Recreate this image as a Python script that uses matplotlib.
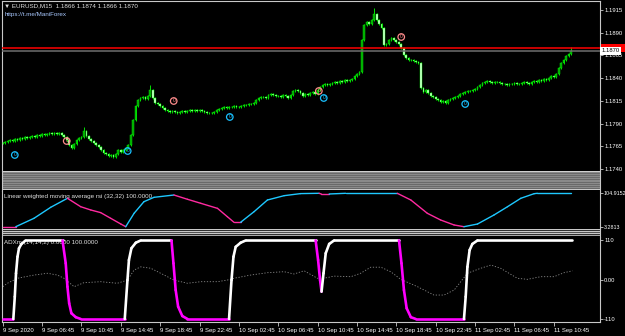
import numpy as np
import matplotlib
matplotlib.use("Agg")
import matplotlib.pyplot as plt
from matplotlib.patches import Rectangle

plt.rcParams['font.family'] = ['Liberation Sans', 'DejaVu Sans']

# ---- price data (EURUSD M15 closes) ----
closes = [
    1.17687, 1.17698, 1.17709, 1.17720, 1.17709, 1.17731, 1.17720, 1.17742, 1.17731, 1.17753,
    1.17742, 1.17753, 1.17764, 1.17753, 1.17775, 1.17764, 1.17786, 1.17775, 1.17786, 1.17797,
    1.17786, 1.17797, 1.17786, 1.17797, 1.17775, 1.17753, 1.17720, 1.17665, 1.17632, 1.17676,
    1.17720, 1.17742, 1.17753, 1.17819, 1.17764, 1.17731, 1.17709, 1.17687, 1.17665, 1.17643,
    1.17610, 1.17577, 1.17566, 1.17544, 1.17555, 1.17533, 1.17566, 1.17610, 1.17588, 1.17610,
    1.17632, 1.17665, 1.17775, 1.17940, 1.18094, 1.18160, 1.18182, 1.18193, 1.18171, 1.18204,
    1.18270, 1.18182, 1.18127, 1.18116, 1.18094, 1.18072, 1.18050, 1.18039, 1.18028, 1.18039,
    1.18028, 1.18017, 1.18028, 1.18039, 1.18028, 1.18039, 1.18050, 1.18039, 1.18050, 1.18039,
    1.18050, 1.18039, 1.18028, 1.18017, 1.18017, 1.18017, 1.18028, 1.18050, 1.18061, 1.18072,
    1.18083, 1.18072, 1.18083, 1.18083, 1.18094, 1.18083, 1.18083, 1.18094, 1.18105, 1.18105,
    1.18116, 1.18116, 1.18127, 1.18160, 1.18182, 1.18193, 1.18193, 1.18182, 1.18215, 1.18226,
    1.18215, 1.18204, 1.18204, 1.18193, 1.18215, 1.18204, 1.18182, 1.18215, 1.18259, 1.18270,
    1.18259, 1.18237, 1.18204, 1.18226, 1.18215, 1.18237, 1.18248, 1.18226, 1.18270, 1.18303,
    1.18325, 1.18336, 1.18325, 1.18336, 1.18347, 1.18358, 1.18347, 1.18369, 1.18358, 1.18380,
    1.18369, 1.18380, 1.18391, 1.18424, 1.18446, 1.18468, 1.18820, 1.18985, 1.19018, 1.18996,
    1.19040, 1.19106, 1.19040, 1.18996, 1.18952, 1.18765, 1.18776, 1.18820, 1.18842, 1.18820,
    1.18798, 1.18776, 1.18732, 1.18655, 1.18622, 1.18600, 1.18600, 1.18589, 1.18578, 1.18567,
    1.18292, 1.18248, 1.18270, 1.18237, 1.18204, 1.18193, 1.18171, 1.18160, 1.18138, 1.18149,
    1.18127, 1.18160, 1.18171, 1.18182, 1.18193, 1.18204, 1.18226, 1.18237, 1.18248, 1.18259,
    1.18259, 1.18270, 1.18281, 1.18303, 1.18325, 1.18347, 1.18358, 1.18369, 1.18358, 1.18347,
    1.18358, 1.18358, 1.18347, 1.18336, 1.18336, 1.18325, 1.18336, 1.18336, 1.18347, 1.18336,
    1.18336, 1.18347, 1.18358, 1.18347, 1.18336, 1.18358, 1.18369, 1.18358, 1.18380, 1.18369,
    1.18391, 1.18380, 1.18402, 1.18424, 1.18413, 1.18446, 1.18512, 1.18567, 1.18600, 1.18644,
    1.18666, 1.18699,
]
# bars whose high pokes well above the body
spike_bars = [33, 60, 151, 231]
spike_highs = [1.17863, 1.18325, 1.19172, 1.18743]

red_level = 1.18732
bid_level = 1.1870
price_ticks = [1.1740, 1.1765, 1.1790, 1.1815, 1.1840, 1.1865, 1.1890, 1.1915]

# "0" signal markers
pink_bars = [26, 69.5, 128.5, 162]
pink_prices = [1.17709, 1.18149, 1.18259, 1.18853]
cyan_bars = [4.9, 50.8, 92.3, 130.5, 188]
cyan_prices = [1.17555, 1.17599, 1.17973, 1.18182, 1.18116]

# ---- LWMA rsi indicator ----
rsi_bars = [0, 5.3, 12.7, 19.5, 26.3, 31.7, 35.8, 39.8, 43.9, 48, 50, 53.4, 57.4, 61.5, 69.6,
            75.1, 80.5, 87.3, 91.3, 94, 96.7, 102.2, 107.6, 114.4, 121.1, 128.6, 129.5, 132.7,
            139.4, 160.4, 165.9, 172.6, 178, 183.5, 187.5, 193, 199.7, 205.2, 210.6, 216, 217.3,
            230.9]
rsi_vals = [3.3, 3.3, 28.8, 62.3, 89.7, 64.1, 54.1, 46.2, 28.8, 11.5, 3.3, 44.1, 79.4, 92.7, 99.7,
            86.7, 74.5, 59.1, 33.8, 16.7, 16.7, 49.2, 84.5, 97.7, 104.0, 104.9, 102.8, 102.8,
            104.9, 104.9, 84.5, 44.1, 23.7, 8.5, 3.3, 11.5, 38.9, 64.1, 89.7, 103.7, 104.9,
            104.9]

# ---- ADXm indicator ----
adx_bars = [0, 4.3, 4.9, 5.4, 6.0, 6.6, 7.6, 9.3, 24.3, 25.6, 26.3, 27.0, 27.9, 29.7, 31.7,
            49.6, 50.7, 51.3, 52.3, 54.1, 56.1, 68.6, 69.4, 70.3, 71.3, 73.0, 75.1, 92.0, 93.0,
            93.8, 94.7, 96.7, 98.8, 127.2, 128.2, 129.0, 129.6, 130.4, 131.3, 132.7, 134.7,
            161.1, 162.1, 163.1, 164.2, 165.9, 167.9, 187.5, 188.2, 188.9, 189.8, 190.9, 193.0,
            231.6]
adx_vals = [-110, -110, -47.6, 17.9, 64.4, 88, 100, 110, 110, 46, -19.6, -66, -94, -105, -110,
            -110, -1, 55, 88, 103.6, 110, 110, 46, -29, -75.6, -101.7, -110, -110, -1,
            64.4, 92, 103.6, 110, 110, 55, -1, -33.6, 18, 74, 100, 110,
            110, 46, -29, -80, -105, -110, -110, -47.6, 36, 83, 100, 110,
            110]
dot_bars = [0, 1.9, 6, 12.7, 18.2, 22.2, 24.9, 29, 33, 39.8, 46.6, 50.7, 53.4, 56.1, 60.2, 64.2,
            69.6, 75.1, 80.5, 87.3, 91.3, 94, 100.8, 107.6, 114.4, 118.4, 122.5, 127.9, 130.6,
            134.7, 141.5, 145.5, 149.6, 153.7, 157.7, 161.8, 168.6, 175.3, 179.4, 183.5, 188.9,
            194.3, 198.4, 202.4, 209.2, 213.3, 218.7, 224.1, 228.2, 231.6]
dot_vals = [-19.6, -10, 4, 13, 18, 13, 4, -19.6, -8.4, -5.6, -10, -1, 27, 36, 32, 18, -1, -10,
            -5.6, -5.6, -1, 4, 13, 19.6, 22.4, 16, 25, 4, 4, 10, 8.4, 18, 35, 35, 22.4, 1, -19.6,
            -43, -43, -29, 18, 32, 41, 32, 4, 1, 8.4, 8.4, 19.6, 25]

time_ticks = list(range(0, 225, 16))
time_labels = ["9 Sep 2020", "9 Sep 06:45", "9 Sep 10:45", "9 Sep 14:45", "9 Sep 18:45",
               "9 Sep 22:45", "10 Sep 02:45", "10 Sep 06:45", "10 Sep 10:45", "10 Sep 14:45",
               "10 Sep 18:45", "10 Sep 22:45", "11 Sep 02:45", "11 Sep 06:45", "11 Sep 10:45"]

# ---- layout (pixel based, MT4 look) ----
W, H = 625, 336
fig = plt.figure(figsize=(W / 100, H / 100), dpi=100, facecolor='black')
XLIM = (-0.3, 242.8)
FRAME = '#c8c8c8'


def panel(top, bottom, left=2, right=600):
    ax = fig.add_axes([left / W, 1 - bottom / H, (right - left) / W, (bottom - top) / H])
    ax.set_facecolor('black')
    for s in ax.spines.values():
        s.set_visible(False)
    ax.set_xlim(*XLIM)
    ax.set_xticks([])
    ax.yaxis.tick_right()
    ax.tick_params(axis='y', direction='out', length=2, width=0.6, color=FRAME,
                   labelsize=4.2, labelcolor='white', pad=1)
    ax.spines['right'].set_visible(True)
    ax.spines['right'].set_color(FRAME)
    ax.spines['left'].set_visible(True)
    ax.spines['left'].set_color(FRAME)
    return ax


def stripes(top, bottom, colors):
    ax = panel(top, bottom)
    ax.set_yticks([])
    n = len(colors)
    ax.set_ylim(0, n)
    for k, c in enumerate(colors):
        ax.axhspan(n - k - 1, n - k, color=c, lw=0)


def draw_dir(ax, xs, vs, up, down, lw, start):
    prev = start
    for k in range(len(xs) - 1):
        if vs[k + 1] > vs[k]:
            c = up
        elif vs[k + 1] < vs[k]:
            c = down
        else:
            c = prev
        ax.plot(xs[k:k + 2], vs[k:k + 2], color=c, lw=lw, solid_capstyle='round', zorder=3)
        prev = c


# main price panel
ax = panel(1, 171)
ax.spines['top'].set_visible(True)
ax.spines['top'].set_color(FRAME)
ax.set_ylim(1.17379, 1.19249)
ax.set_yticks(price_ticks)
ax.set_yticklabels([f"{p:.4f}" for p in price_ticks])

opens = [closes[0] + 0.00005] + closes[:-1]
idx = np.arange(len(closes))
highs = [max(o, c) + 0.00011 for o, c in zip(opens, closes)]
lows = [min(o, c) - 0.00011 for o, c in zip(opens, closes)]
for b, h in zip(spike_bars, spike_highs):
    highs[b] = h
ax.vlines(idx, lows, highs, color='#00e000', lw=0.7, zorder=2)
body_lo = [min(o, c) for o, c in zip(opens, closes)]
body_h = [max(abs(c - o), 0.00004) for o, c in zip(opens, closes)]
body_col = ['#00a000' if c >= o else '#d8ffd8' for o, c in zip(opens, closes)]
ax.bar(idx, body_h, bottom=body_lo, width=0.7, color=body_col, edgecolor='#00ff00',
       lw=0.3, zorder=3)

ax.axhline(red_level, color='#ff0000', lw=1.1, zorder=4)
ax.axhline(bid_level, color='#6e6e6e', lw=1.1, zorder=4)

for xs, ys, col in [(pink_bars, pink_prices, '#ff8c8c'), (cyan_bars, cyan_prices, '#19c0ff')]:
    ax.scatter(xs, ys, s=22, facecolors='none', edgecolors=col, linewidths=0.9, zorder=5)
    for x, y in zip(xs, ys):
        ax.text(x, y, "0", color=col, fontsize=3.6, ha='center', va='center', zorder=6)

ax.text(0.004, 0.985, "\u25bc EURUSD,M15  1.1866 1.1874 1.1866 1.1870", transform=ax.transAxes,
        color='#e0e0e0', fontsize=4.5, ha='left', va='top')
ax.text(0.004, 0.935, "https://t.me/ManiForex", transform=ax.transAxes,
        color='#a8c8ff', fontsize=4.5, ha='left', va='top')

# price labels on the scale: red line tag (hidden behind) and current bid tag
yt = ax.get_yaxis_transform()
ax.add_patch(Rectangle((1.002, red_level - 0.00045), 0.04, 0.0009, transform=yt,
                       fc='#ff0000', ec='none', clip_on=False, zorder=7))
ax.text(1.003, bid_level, "1.1870", transform=yt, fontsize=4.2, color='black', ha='left',
        va='center', bbox=dict(boxstyle='square,pad=0.25', fc='white', ec='none'), zorder=8)

# separators
sep1 = ['#d0d0d0'] + ['#8a8a8a', '#6a6a6a'] * 9 + ['#c8c8c8', '#000000']
stripes(171, 191, sep1)
stripes(229, 237, ['#c8c8c8', '#303030', '#c8c8c8', '#505050', '#c8c8c8', '#303030',
                   '#a8a8a8', '#000000'])

# LWMA rsi panel
ax2 = panel(191, 229)
ax2.set_ylim(-3.7, 111.9)
ax2.set_yticks([104.9152, 3.2813])
ax2.set_yticklabels(["104.9152", "3.2813"])
ax2.tick_params(axis='y', labelsize=3.9, pad=0.8)
draw_dir(ax2, rsi_bars, rsi_vals, '#1ec8ff', '#ff2aa0', 1.0, '#ff2aa0')
ax2.text(0.004, 0.93, "Linear weighted moving average rsi (32,32) 100.0000",
         transform=ax2.transAxes, color='#e0e0e0', fontsize=4.5, ha='left', va='top', zorder=1)

# ADXm panel
ax3 = panel(237, 322)
ax3.spines['bottom'].set_visible(True)
ax3.spines['bottom'].set_color(FRAME)
ax3.set_ylim(-118.5, 119.6)
ax3.set_yticks([110, 0, -110])
ax3.set_yticklabels(["110", "0.00", "-110"])
ax3.text(0.004, 0.965, "ADXm (14,14,2) 0.0000 100.0000", transform=ax3.transAxes,
         color='#e0e0e0', fontsize=4.5, ha='left', va='top', zorder=1)
ax3.plot(dot_bars, dot_vals, color='#8a8a8a', lw=0.6, ls=(0, (1.5, 2)), zorder=2)
draw_dir(ax3, adx_bars, adx_vals, 'white', '#ff00ff', 1.9, '#ff00ff')
ax3.set_xticks(time_ticks)
ax3.set_xticklabels(time_labels, ha='left')
ax3.tick_params(axis='x', direction='out', length=3, width=0.6, color=FRAME,
                labelsize=4.3, labelcolor='white', pad=1)

fig.savefig("out.png", dpi=100, facecolor='black')
